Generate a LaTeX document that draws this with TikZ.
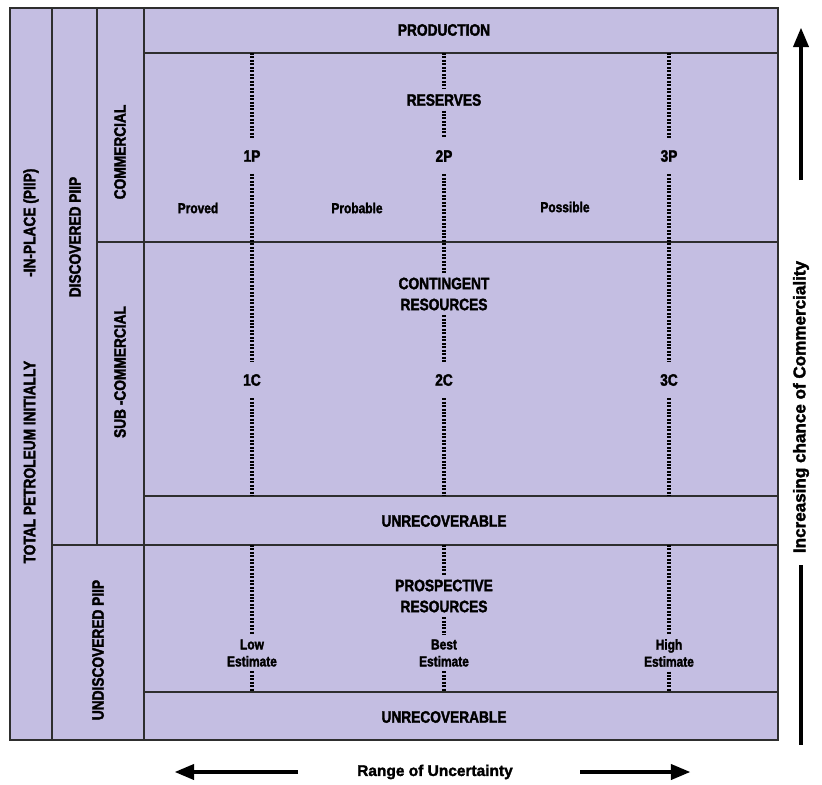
\documentclass[tikz,border=0pt]{standalone}
\usepackage{fontspec}
\setmainfont{Liberation Sans}[FakeStretch=0.83, BoldFeatures={FakeBold=2}]
\newfontfamily\widefont{Liberation Sans}[BoldFeatures={FakeBold=2}]
\usetikzlibrary{arrows, positioning}
\definecolor{piiplilac}{HTML}{C4BEE2}
\definecolor{gridgrey}{HTML}{2E2E2E}

\begin{document}
\begin{tikzpicture}[x=0.75pt, y=-0.75pt]
\tikzstyle{cell} = [draw=gridgrey, line width=0.8pt]
\tikzstyle{head} = [font=\fontsize{12.4}{15.75}\selectfont\bfseries, align=center]
\tikzstyle{small} = [font=\fontsize{10.8}{12.75}\selectfont\bfseries, align=center]
\tikzstyle{side} = [head, rotate=90]
\tikzstyle{level} = [head, inner ysep=9pt]
\tikzstyle{axis} = [font=\widefont\fontsize{11.6}{14}\selectfont\bfseries]
\tikzstyle{dots} = [line width=2.3pt, dash pattern=on 1.5pt off 1.1pt]
\tikzstyle{bigarrow} = [line width=2.4pt]

\useasboundingbox (0,0) rectangle (822,785);

% Frame and grid
\fill[piiplilac] (10,8) rectangle (778,740);
\draw[cell, line width=1pt] (10,8) rectangle (778,740);
\draw[cell] (52,8) -- (52,740);
\draw[cell] (97,8) -- (97,545);
\draw[cell] (144,8) -- (144,740);
\draw[cell] (144,53) -- (778,53);
\draw[cell] (97,242) -- (778,242);
\draw[cell] (144,496) -- (778,496);
\draw[cell] (52,545) -- (778,545);
\draw[cell] (144,692) -- (778,692);

\coordinate (rowprod) at (144,53);
\coordinate (rowunrec) at (144,496);
\coordinate (rowundisc) at (144,545);
\coordinate (rowlast) at (144,692);

% Left headings
\node (total) [side] at (31,366) {TOTAL PETROLEUM INITIALLY\hspace{63pt}-IN-PLACE (PIIP)};
\node (discovered) [side] at (75,237) {DISCOVERED PIIP};
\node (commercial) [side] at (120,152) {COMMERCIAL};
\node (subcommercial) [side] at (120,372) {SUB -COMMERCIAL};
\node (undiscovered) [side] at (98,650) {UNDISCOVERED PIIP};

% Classes
\node (production) [head] at (444,30) {PRODUCTION};
\node (reserves) [head] at (444,100) {RESERVES};
\node (contingent) [head] at (444,294) {CONTINGENT\\RESOURCES};
\node (unrecA) [head] at (444,521) {UNRECOVERABLE};
\node (prospective) [head] at (444,596) {PROSPECTIVE\\RESOURCES};
\node (unrecB) [head] at (444,717) {UNRECOVERABLE};

% Categories
\foreach \n/\x in {1/252, 2/444, 3/669} {
  \node (p\n) [level] at (\x,156) {\n P};
  \node (c\n) [level] at (\x,380) {\n C};
}
\foreach \n/\x/\w in {1/252/Low, 2/444/Best, 3/669/High}
  \node (est\n) [small] at (\x,653) {\w\\Estimate};

\node (proved) [small] at (198,208) {Proved};
\node (probable) [small] at (357,208) {Probable};
\node (possible) [small] at (565,207) {Possible};

% Dotted dividers
\foreach \n in {1,3} {
  \draw[dots] (p\n |- rowprod) -- (p\n);
  \draw[dots] (p\n) -- (c\n);
  \draw[dots] (c\n) -- (c\n |- rowunrec);
  \draw[dots] (est\n |- rowundisc) -- (est\n);
  \draw[dots] (est\n) -- (est\n |- rowlast);
}
\draw[dots] (reserves |- rowprod) -- (reserves);
\draw[dots] (reserves) -- (p2);
\draw[dots] (p2) -- (contingent);
\draw[dots] (contingent) -- (c2);
\draw[dots] (c2) -- (c2 |- rowunrec);
\draw[dots] (prospective |- rowundisc) -- (prospective);
\draw[dots] (prospective) -- (est2);
\draw[dots] (est2) -- (est2 |- rowlast);

% Axes
\node (range) [axis] at (435,772) {Range of Uncertainty};
\coordinate (rangeLa) at (298,772);
\coordinate (rangeLb) at (175,772);
\coordinate (rangeRa) at (580,772);
\coordinate (rangeRb) at (690,772);
\draw[bigarrow, -triangle 45] (rangeLa) -- (rangeLb);
\draw[bigarrow, -triangle 45] (rangeRa) -- (rangeRb);

\node (chance) [axis, rotate=90, font=\widefont\fontsize{12.8}{14}\selectfont\bfseries] at (801,407) {Increasing chance of Commerciality};
\coordinate (chanceUa) at (801,180);
\coordinate (chanceUb) at (801,28);
\coordinate (chanceDa) at (801,565);
\coordinate (chanceDb) at (801,745);
\draw[bigarrow, -triangle 45] (chanceUa) -- (chanceUb);
\draw[bigarrow] (chanceDa) -- (chanceDb);

\end{tikzpicture}
\end{document}
